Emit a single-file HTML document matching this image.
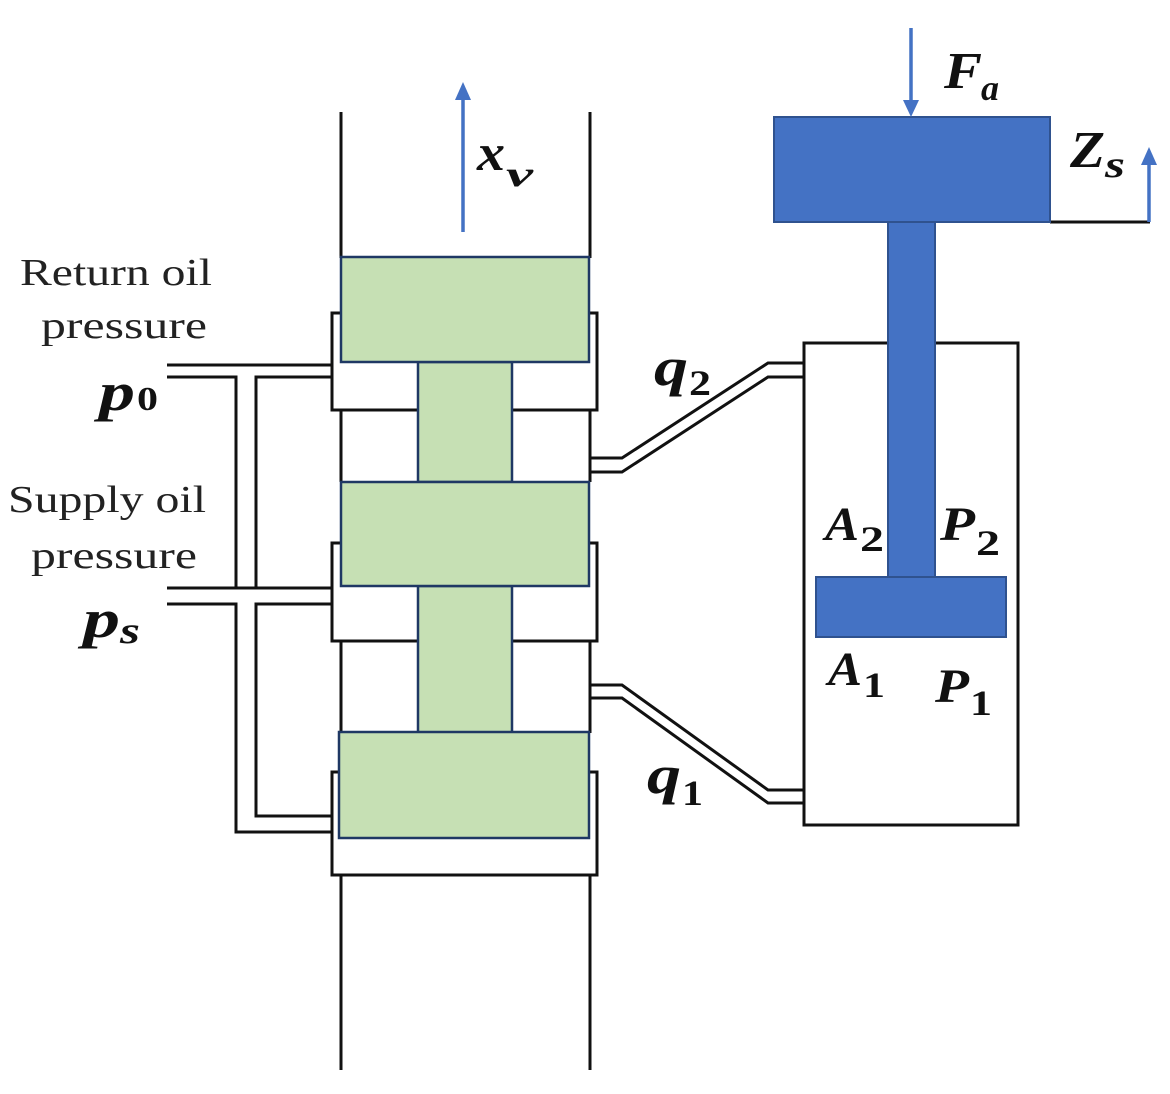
<!DOCTYPE html>
<html><head><meta charset="utf-8"><style>
html,body{margin:0;padding:0;background:#fff;}
svg{display:block;}
.m{font-family:"Liberation Serif",serif;font-weight:bold;font-style:italic;}
.n{font-family:"Liberation Serif",serif;font-weight:bold;}
.t{font-family:"Liberation Serif",serif;font-size:38px;fill:#222;}
</style></head><body>
<svg width="1170" height="1094" viewBox="0 0 1170 1094" xmlns="http://www.w3.org/2000/svg">
<g fill="none" stroke="#111" stroke-width="3">
  <line x1="341" y1="112" x2="341" y2="258"/>
  <line x1="590" y1="112" x2="590" y2="258"/>
  <line x1="341" y1="875" x2="341" y2="1070"/>
  <line x1="590" y1="875" x2="590" y2="1070"/>
  <line x1="341" y1="410" x2="341" y2="482"/>
  <line x1="590" y1="410" x2="590" y2="482"/>
  <line x1="341" y1="641" x2="341" y2="733"/>
  <line x1="590" y1="641" x2="590" y2="733"/>
  <polyline points="341,313 332,313 332,410 418,410"/>
  <polyline points="341,543 332,543 332,641 418,641"/>
  <polyline points="341,772 332,772 332,875 341,875"/>
  <polyline points="589,313 597,313 597,410 512,410"/>
  <polyline points="589,543 597,543 597,641 512,641"/>
  <polyline points="589,772 597,772 597,875 589,875"/>
  <line x1="341" y1="875" x2="589" y2="875"/>
  <line x1="167" y1="365" x2="332" y2="365"/>
  <polyline points="167,377 236,377 236,588"/>
  <polyline points="332,377 256,377 256,588"/>
  <line x1="167" y1="588" x2="332" y2="588"/>
  <polyline points="167,604 236,604 236,832 332,832"/>
  <polyline points="332,604 256,604 256,816 332,816"/>
  <polyline points="590,458 622,458 768,363 803,363"/>
  <polyline points="590,472 622,472 768,377 803,377"/>
  <polyline points="590,685 622,685 768,790 803,790"/>
  <polyline points="590,698 622,698 768,803 803,803"/>
  <rect x="804" y="343" width="214" height="482"/>
  <line x1="1050" y1="222" x2="1150" y2="222"/>
</g>
<g fill="#c6e0b4" stroke="#1f3864" stroke-width="2.5">
  <rect x="418" y="362" width="94" height="120"/>
  <rect x="418" y="586" width="94" height="147"/>
  <rect x="341" y="257" width="248" height="105"/>
  <rect x="341" y="482" width="248" height="104"/>
  <rect x="339" y="732" width="250" height="106"/>
</g>
<g fill="#4472c4" stroke="#2f528f" stroke-width="2">
  <rect x="888" y="222" width="47" height="356"/>
  <rect x="816" y="577" width="190" height="60"/>
  <rect x="774" y="117" width="276" height="105"/>
</g>
<g stroke="#4472c4" stroke-width="3.5" fill="#4472c4">
  <line x1="463" y1="232" x2="463" y2="95"/>
  <polygon points="455,100 471,100 463,82" stroke="none"/>
  <line x1="911" y1="28" x2="911" y2="105"/>
  <polygon points="903,100 919,100 911,117" stroke="none"/>
  <line x1="1149" y1="222" x2="1149" y2="160"/>
  <polygon points="1141,165 1157,165 1149,147" stroke="none"/>
</g>
<g fill="#111">
  <text class="t" x="20" y="285" textLength="192" lengthAdjust="spacingAndGlyphs">Return oil</text>
  <text class="t" x="41" y="338" textLength="166" lengthAdjust="spacingAndGlyphs">pressure</text>
  <text class="t" x="8" y="512" textLength="198" lengthAdjust="spacingAndGlyphs">Supply oil</text>
  <text class="t" x="31" y="568" textLength="166" lengthAdjust="spacingAndGlyphs">pressure</text>
  <text class="m" x="99" y="410" font-size="54" textLength="36" lengthAdjust="spacingAndGlyphs">p</text><text class="n" x="137" y="410" font-size="34" textLength="21" lengthAdjust="spacingAndGlyphs">0</text>
  <text class="m" x="83" y="637" font-size="54" textLength="37" lengthAdjust="spacingAndGlyphs">p</text><text class="m" x="120" y="643" font-size="38" textLength="20" lengthAdjust="spacingAndGlyphs">s</text>
  <text class="m" x="477" y="170" font-size="52" textLength="28" lengthAdjust="spacingAndGlyphs">x</text><text class="m" x="506" y="186" font-size="36" textLength="27" lengthAdjust="spacingAndGlyphs">v</text>
  <text class="m" x="944" y="88" font-size="52" textLength="38" lengthAdjust="spacingAndGlyphs">F</text><text class="m" x="981" y="100" font-size="36" textLength="18" lengthAdjust="spacingAndGlyphs">a</text>
  <text class="m" x="1070" y="167" font-size="52" textLength="35" lengthAdjust="spacingAndGlyphs">Z</text><text class="m" x="1105" y="177" font-size="38" textLength="20" lengthAdjust="spacingAndGlyphs">s</text>
  <text class="m" x="654" y="385" font-size="54" textLength="34" lengthAdjust="spacingAndGlyphs">q</text><text class="n" x="689" y="395" font-size="36" textLength="22" lengthAdjust="spacingAndGlyphs">2</text>
  <text class="m" x="647" y="793" font-size="54" textLength="34" lengthAdjust="spacingAndGlyphs">q</text><text class="n" x="682" y="805" font-size="36" textLength="21" lengthAdjust="spacingAndGlyphs">1</text>
  <text class="m" x="825" y="540" font-size="48" textLength="34" lengthAdjust="spacingAndGlyphs">A</text><text class="n" x="860" y="551" font-size="36" textLength="24" lengthAdjust="spacingAndGlyphs">2</text>
  <text class="m" x="940" y="540" font-size="48" textLength="35" lengthAdjust="spacingAndGlyphs">P</text><text class="n" x="976" y="555" font-size="36" textLength="24" lengthAdjust="spacingAndGlyphs">2</text>
  <text class="m" x="828" y="685" font-size="48" textLength="34" lengthAdjust="spacingAndGlyphs">A</text><text class="n" x="863" y="697" font-size="36" textLength="22" lengthAdjust="spacingAndGlyphs">1</text>
  <text class="m" x="935" y="702" font-size="48" textLength="34" lengthAdjust="spacingAndGlyphs">P</text><text class="n" x="970" y="715" font-size="36" textLength="22" lengthAdjust="spacingAndGlyphs">1</text>
</g>
</svg>
</body></html>
